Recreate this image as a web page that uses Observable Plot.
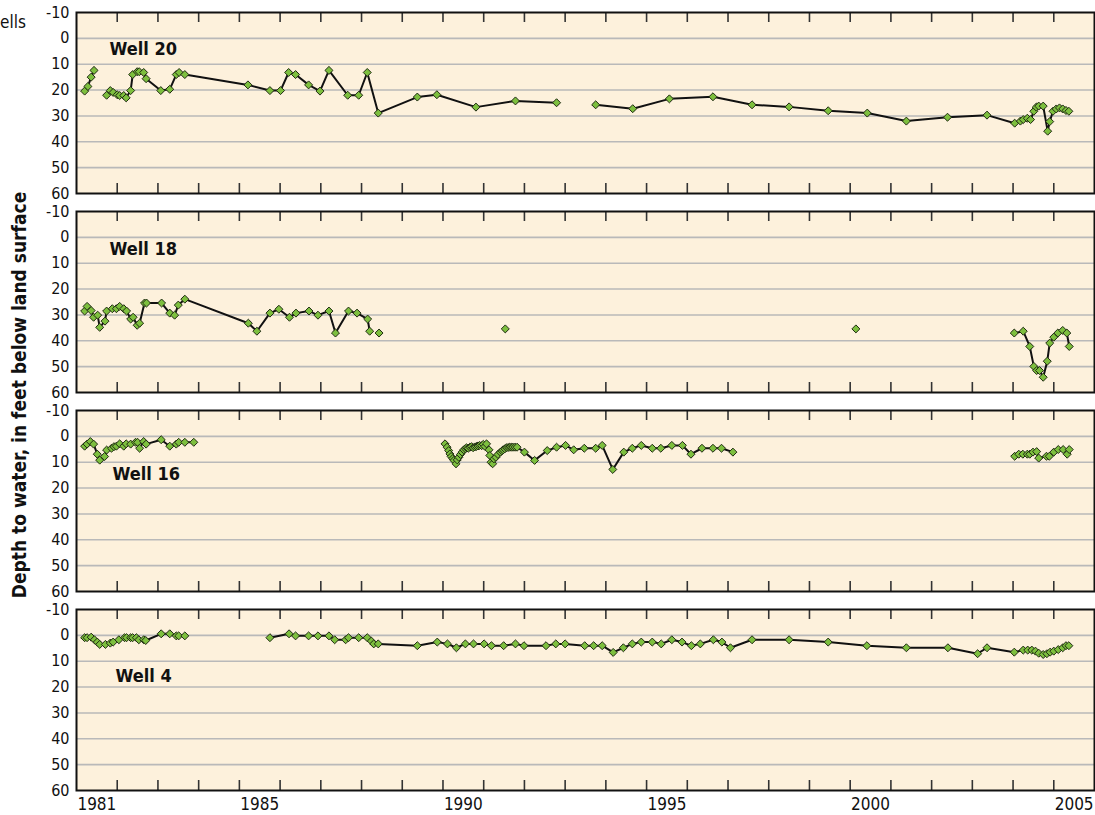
<!DOCTYPE html>
<html>
<head>
<meta charset="utf-8">
<script src="https://cdn.jsdelivr.net/npm/d3@7"></script>
<script src="https://cdn.jsdelivr.net/npm/@observablehq/plot@0.6"></script>
<style>
  body { margin: 0; background: #ffffff; }
  #chart { position: relative; width: 1095px; height: 815px; overflow: hidden;
           font-family: "Liberation Sans Narrow", "DejaVu Sans Condensed", "Liberation Sans", sans-serif; color: #111; }
  .panel { position: absolute; left: 0; }
  #ytitle { position: absolute; width: 520px; left: -241px; top: 384px; text-align: center;
            font-size: 19px; font-weight: bold; line-height: 22px; transform: rotate(-90deg); transform-origin: 50% 50%; white-space: nowrap; }
  #corner { position: absolute; left: 0; top: 12px; font-size: 17px; line-height: 20px; }
</style>
</head>
<body>
<div id="chart">
  <div id="corner">ells</div>
  <div id="ytitle">Depth to water, in feet below land surface</div>
</div>
<script>
// ---------- axis values ----------
const tickYears = [1982, 1983, 1984, 1985, 1986, 1987, 1988, 1989, 1990, 1991, 1992, 1993,
                   1994, 1995, 1996, 1997, 1998, 1999, 2000, 2001, 2002, 2003, 2004, 2005];
const labelYears = [1981, 1985, 1990, 1995, 2000, 2005];
const depthTicks = [-10, 0, 10, 20, 30, 40, 50, 60];
const gridDepths = [0, 10, 20, 30, 40, 50];
const wellNames = ["Well 20", "Well 18", "Well 16", "Well 4"];

// ---------- series: [decimal year, depth to water (ft)], null = gap ----------
const well20 = [
  [1981.20, 20.4], [1981.28, 18.6], [1981.36, 15.0], [1981.43, 12.4], null,
  [1981.74, 22.0], [1981.83, 20.2], [1981.90, 20.9], [1982.00, 21.8], [1982.06, 22.1], [1982.16, 22.1],
  [1982.22, 23.0], [1982.33, 20.2], [1982.38, 14.0], [1982.49, 12.9], [1982.54, 12.9], [1982.65, 13.2],
  [1982.71, 15.6], [1983.07, 20.2], [1983.29, 19.7], [1983.45, 14.0], [1983.52, 13.2], [1983.66, 14.0],
  [1985.21, 18.0], [1985.75, 20.2], [1986.01, 20.2], [1986.21, 13.2], [1986.38, 14.0], [1986.70, 18.0],
  [1986.98, 20.4], [1987.20, 12.4], [1987.66, 22.0], [1987.93, 22.0], [1988.14, 13.2], [1988.41, 28.9],
  [1989.37, 22.7], [1989.85, 21.8], [1990.81, 26.6], [1991.78, 24.2], [1992.79, 24.9], null,
  [1993.75, 25.7], [1994.66, 27.2], [1995.56, 23.4], [1996.63, 22.6], [1997.59, 25.7], [1998.50, 26.5],
  [1999.46, 28.0], [2000.42, 28.9], [2001.38, 32.0], [2002.39, 30.5], [2003.36, 29.7], [2004.04, 32.8],
  [2004.18, 32.0], [2004.25, 31.4], [2004.35, 30.9], [2004.43, 31.4], [2004.51, 28.2], [2004.57, 26.6],
  [2004.63, 26.2], [2004.74, 26.2], [2004.85, 35.9], [2004.90, 32.2], [2004.98, 28.2], [2005.06, 27.3],
  [2005.14, 26.9], [2005.22, 27.3], [2005.30, 27.9], [2005.37, 28.2]
];

const well18 = [
  [1981.20, 28.5], [1981.26, 26.7], [1981.36, 28.3], [1981.42, 30.9], [1981.52, 30.1], [1981.57, 34.8],
  [1981.70, 32.4], [1981.74, 28.5], [1981.88, 27.6], [1981.98, 27.6], [1982.06, 26.7], [1982.16, 27.6],
  [1982.23, 28.5], [1982.33, 31.6], [1982.39, 30.9], [1982.49, 34.0], [1982.55, 33.2], [1982.67, 25.4],
  [1982.72, 25.4], [1983.09, 25.4], [1983.29, 29.3], [1983.41, 30.1], [1983.50, 26.2], [1983.66, 23.9],
  [1985.22, 33.2], [1985.43, 36.3], [1985.75, 29.3], [1985.97, 27.8], [1986.23, 30.9], [1986.39, 29.3],
  [1986.71, 28.5], [1986.93, 30.1], [1987.20, 28.5], [1987.36, 37.0], [1987.68, 28.5], [1987.89, 29.3],
  [1988.15, 31.6], [1988.20, 36.3], null,
  [1988.43, 37.0], null,
  [1991.53, 35.4], null,
  [2000.14, 35.4], null,
  [2004.03, 37.0], [2004.25, 36.3], [2004.41, 42.2], [2004.51, 49.9], [2004.58, 51.5], [2004.65, 51.5],
  [2004.74, 54.1], [2004.84, 47.9], [2004.90, 40.9], [2005.00, 38.6], [2005.10, 37.0], [2005.22, 36.0],
  [2005.32, 37.0], [2005.38, 42.2]
];

const well16 = [
  [1981.20, 3.8], [1981.26, 3.0], [1981.34, 2.0], [1981.42, 3.0], [1981.51, 6.9], [1981.57, 9.2],
  [1981.69, 7.8], [1981.74, 5.3], [1981.86, 4.6], [1981.92, 4.0], [1981.98, 3.8], [1982.06, 2.9],
  [1982.16, 3.8], [1982.22, 2.9], [1982.33, 3.0], [1982.45, 2.3], [1982.50, 2.3], [1982.55, 4.6],
  [1982.65, 2.0], [1982.71, 3.0], [1983.08, 1.3], [1983.29, 3.8], [1983.45, 3.0], [1983.51, 2.3],
  [1983.66, 2.3], [1983.88, 2.3], null,
  [1990.05, 2.9], [1990.10, 4.2], [1990.14, 5.5], [1990.17, 6.8], [1990.20, 7.8], [1990.24, 8.6],
  [1990.27, 9.3], [1990.32, 10.6], [1990.35, 9.1], [1990.39, 8.1], [1990.43, 7.0], [1990.47, 6.1],
  [1990.51, 5.2], [1990.55, 4.8], [1990.58, 4.4], [1990.62, 4.6], [1990.66, 4.2], [1990.70, 4.0],
  [1990.74, 4.4], [1990.78, 4.1], [1990.82, 3.9], [1990.86, 3.7], [1990.90, 3.5], [1990.95, 3.6],
  [1990.99, 3.1], [1991.03, 3.9], [1991.07, 2.9], [1991.13, 5.2], [1991.15, 7.4], [1991.18, 10.0],
  [1991.22, 10.6], [1991.25, 8.7], [1991.30, 8.1], [1991.35, 7.0], [1991.41, 6.1], [1991.45, 5.6],
  [1991.48, 5.2], [1991.52, 4.8], [1991.56, 4.4], [1991.60, 4.3], [1991.64, 4.2], [1991.68, 4.2],
  [1991.72, 4.2], [1991.77, 4.2], [1991.82, 4.2], [1992.00, 6.1], [1992.25, 9.3], [1992.56, 5.5],
  [1992.79, 4.2], [1993.01, 3.5], [1993.21, 5.2], [1993.47, 4.6], [1993.75, 4.6], [1993.91, 3.5],
  [1994.17, 12.8], [1994.44, 6.1], [1994.65, 4.6], [1994.87, 3.5], [1995.14, 4.6], [1995.35, 4.6],
  [1995.62, 3.5], [1995.88, 3.5], [1996.09, 6.9], [1996.36, 4.6], [1996.63, 4.6], [1996.84, 4.6],
  [1997.12, 6.1], null,
  [2004.04, 7.7], [2004.14, 6.9], [2004.24, 6.9], [2004.35, 6.9], [2004.41, 6.9], [2004.49, 6.1],
  [2004.58, 5.9], [2004.63, 8.4], [2004.82, 7.7], [2004.89, 7.7], [2005.00, 6.1], [2005.11, 5.1],
  [2005.23, 5.1], [2005.33, 6.9], [2005.38, 5.1]
];

const well4 = [
  [1981.20, 0.9], [1981.26, 0.9], [1981.36, 0.7], [1981.44, 1.7], [1981.51, 2.6], [1981.57, 3.5],
  [1981.71, 3.5], [1981.83, 3.0], [1981.90, 2.6], [1982.04, 1.7], [1982.18, 0.9], [1982.23, 0.9],
  [1982.33, 0.9], [1982.38, 0.9], [1982.47, 0.9], [1982.53, 1.7], [1982.65, 1.7], [1982.70, 2.0],
  [1983.08, -0.6], [1983.29, -0.6], [1983.45, 0.2], [1983.51, 0.2], [1983.66, 0.2], null,
  [1985.75, 0.9], [1986.22, -0.6], [1986.38, 0.2], [1986.70, 0.2], [1986.93, 0.2], [1987.20, 0.2],
  [1987.34, 1.7], [1987.61, 1.7], [1987.68, 0.9], [1987.93, 0.9], [1988.14, 0.9], [1988.24, 2.2],
  [1988.30, 3.3], [1988.41, 3.3], [1989.37, 4.0], [1989.86, 2.6], [1990.11, 3.3], [1990.33, 4.8],
  [1990.55, 3.3], [1990.75, 3.3], [1991.01, 3.3], [1991.19, 4.0], [1991.49, 4.0], [1991.78, 3.3],
  [1991.99, 4.0], [1992.53, 4.0], [1992.77, 3.3], [1993.00, 3.3], [1993.48, 4.0], [1993.70, 4.0],
  [1993.91, 4.0], [1994.18, 6.6], [1994.43, 4.8], [1994.65, 3.3], [1994.87, 2.6], [1995.14, 2.6],
  [1995.36, 3.3], [1995.62, 1.7], [1995.87, 2.6], [1996.10, 4.0], [1996.32, 3.3], [1996.64, 1.7],
  [1996.85, 2.6], [1997.06, 4.8], [1997.59, 1.7], [1998.50, 1.7], [1999.46, 2.6], [2000.41, 4.0],
  [2001.38, 4.8], [2002.40, 4.8], [2003.13, 7.1], [2003.36, 4.8], [2004.03, 6.5], [2004.25, 5.7],
  [2004.36, 5.7], [2004.46, 5.7], [2004.55, 6.1], [2004.63, 6.9], [2004.74, 7.4], [2004.83, 7.1],
  [2004.91, 6.5], [2005.00, 6.1], [2005.11, 5.5], [2005.22, 4.8], [2005.30, 4.0], [2005.37, 4.0]
];

const wellSeries = [well20, well18, well16, well4];

// ---------- styling ----------
const FONT = '"Liberation Sans Narrow", "DejaVu Sans Condensed", "Liberation Sans", sans-serif';
const BG = "#FDF1DC";
const GRID = "#b9b9b9";
const GREEN = "#7DBF3E";
const INK = "#111111";
// well-label offsets (px, from panel's top-left corner)
const labelOffsets = [[33, 37], [33, 38], [36, 64], [39, 67]];

const PANEL_H = 181;
const chart = document.getElementById("chart");

wellSeries.forEach((series, i) => {
  const isLast = i === wellSeries.length - 1;
  const rows = series.map(d => d ? {year: d[0], depth: d[1]} : {year: NaN, depth: NaN});
  const pts = rows.filter(d => !isNaN(d.year));
  const svg = Plot.plot({
    width: 1095,
    height: isLast ? 218 : 199,
    marginLeft: 76,
    marginRight: 1,
    marginTop: 12,
    marginBottom: isLast ? 25 : 6,
    x: {domain: [1981, 2006], axis: null},
    y: {domain: [-10, 60], reverse: true, axis: null},
    style: {fontFamily: FONT, background: "transparent", color: INK, overflow: "visible"},
    marks: [
      Plot.frame({fill: BG, stroke: null}),
      Plot.ruleY(gridDepths, {stroke: GRID, strokeWidth: 1.6}),
      Plot.tickX(tickYears, {x: d => d, insetBottom: PANEL_H - 10, stroke: "#333", strokeWidth: 1.6}),
      Plot.tickX(tickYears, {x: d => d, insetTop: PANEL_H - 10, stroke: "#333", strokeWidth: 1.6}),
      Plot.axisY(depthTicks, {tickSize: 0, tickPadding: 7, fontSize: 16, label: null, tickFormat: d => String(d)}),
      Plot.line(rows, {x: "year", y: "depth", stroke: INK, strokeWidth: 2}),
      Plot.dot(pts, {x: "year", y: "depth", symbol: "diamond2", r: 3.6, fill: GREEN, stroke: "#1f2a12", strokeWidth: 1}),
      Plot.text([wellNames[i]], {frameAnchor: "top-left", dx: labelOffsets[i][0], dy: labelOffsets[i][1],
        textAnchor: "start", lineAnchor: "middle", fontWeight: "bold", fontSize: 18, fill: INK}),
      Plot.frame({stroke: INK, strokeWidth: 2}),
      isLast ? Plot.text(labelYears, {x: d => d + 0.5, frameAnchor: "bottom", dy: 14, lineAnchor: "middle",
        text: d => String(d), fontSize: 17, fill: INK}) : null
    ]
  });
  svg.classList.add("panel");
  svg.style.top = (i * 199) + "px";
  chart.appendChild(svg);
});
</script>
</body>
</html>
